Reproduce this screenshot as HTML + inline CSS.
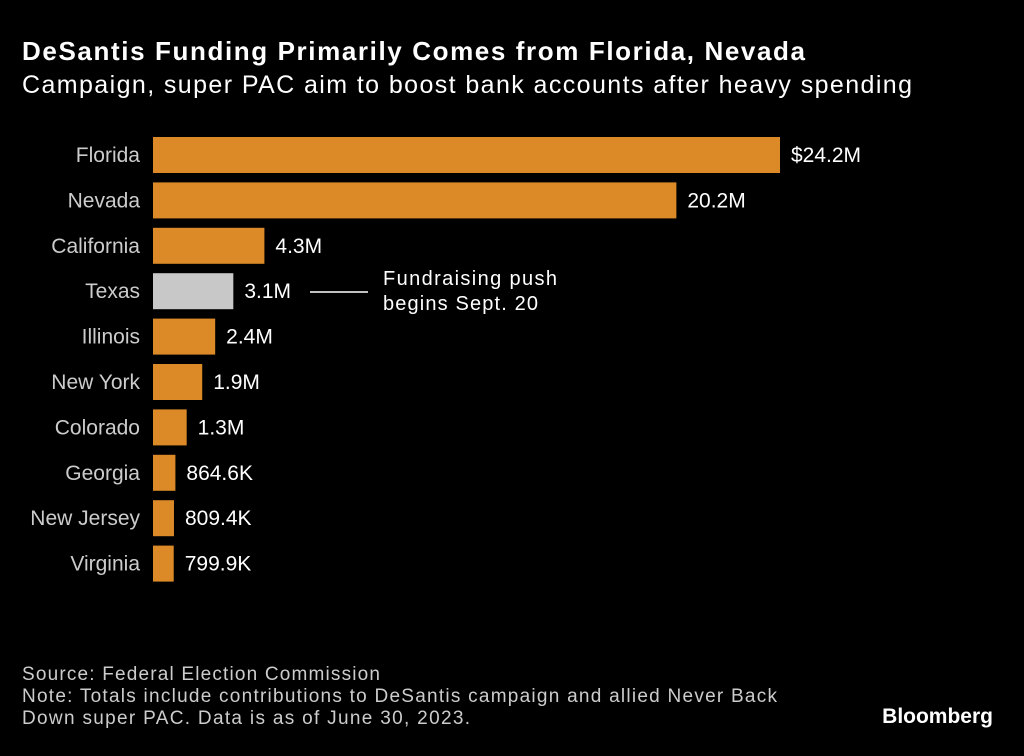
<!DOCTYPE html>
<html><head><meta charset="utf-8"><style>
body{margin:0;background:#000;width:1024px;height:751px;overflow:hidden;font-family:"Liberation Sans",sans-serif;color:#fff}
</style></head><body>
<svg width="1024" height="751" xmlns="http://www.w3.org/2000/svg">
<rect width="1024" height="751" fill="#000"/>
<text x="22" y="60" font-size="26" font-weight="bold" fill="#fff" textLength="783" lengthAdjust="spacing">DeSantis Funding Primarily Comes from Florida, Nevada</text>
<text x="22" y="93" font-size="25" fill="#fff" textLength="890" lengthAdjust="spacing">Campaign, super PAC aim to boost bank accounts after heavy spending</text>
<g id="bars"></g>
<line x1="310" y1="292" x2="368" y2="292" stroke="#fff" stroke-width="1.5"/>
<text x="383" y="285" font-size="20" fill="#fff" textLength="174" lengthAdjust="spacing">Fundraising push</text>
<text x="383" y="310" font-size="20" fill="#fff" textLength="155" lengthAdjust="spacing">begins Sept. 20</text>
<text x="22" y="680" font-size="19" fill="#ccc" textLength="358" lengthAdjust="spacing">Source: Federal Election Commission</text>
<text x="22" y="702" font-size="19" fill="#ccc" textLength="755" lengthAdjust="spacing">Note: Totals include contributions to DeSantis campaign and allied Never Back</text>
<text x="22" y="724" font-size="19" fill="#ccc" textLength="448" lengthAdjust="spacing">Down super PAC. Data is as of June 30, 2023.</text>
<text x="993" y="723" font-size="21" font-weight="bold" fill="#fff" text-anchor="end">Bloomberg</text>
</svg>
<script>
const categories=["Florida","Nevada","California","Texas","Illinois","New York","Colorado","Georgia","New Jersey","Virginia"];
const values=[24.2,20.2,4.3,3.1,2.4,1.9,1.3,0.8646,0.8094,0.7999];
const valueLabels=["$24.2M","20.2M","4.3M","3.1M","2.4M","1.9M","1.3M","864.6K","809.4K","799.9K"];
const highlighted=["Texas"];
const x0=153,scale=627/24.2,yTop=137,step=45.4,bh=36;
const xs=v=>x0+v*scale, ys=i=>yTop+i*step;
const g=document.getElementById('bars'),NS="http://www.w3.org/2000/svg";
categories.forEach((c,i)=>{
  const r=document.createElementNS(NS,'rect');
  r.setAttribute('x',x0);r.setAttribute('y',ys(i));
  r.setAttribute('width',xs(values[i])-x0);r.setAttribute('height',bh);
  r.setAttribute('fill',highlighted.includes(c)?'#c8c8c8':'#db8a27');
  
  
  g.appendChild(r);
  const l=document.createElementNS(NS,'text');
  l.setAttribute('x',140);l.setAttribute('y',ys(i)+bh/2+7);
  l.setAttribute('text-anchor','end');l.setAttribute('font-size','21');l.setAttribute('fill','#ccc');
  l.textContent=c;
  
  
  g.appendChild(l);
  const v=document.createElementNS(NS,'text');
  v.setAttribute('x',xs(values[i])+11);v.setAttribute('y',ys(i)+bh/2+7);
  v.setAttribute('font-size','21');v.setAttribute('fill','#fff');
  v.textContent=valueLabels[i];
  
  
  g.appendChild(v);
});
</script>
</body></html>
